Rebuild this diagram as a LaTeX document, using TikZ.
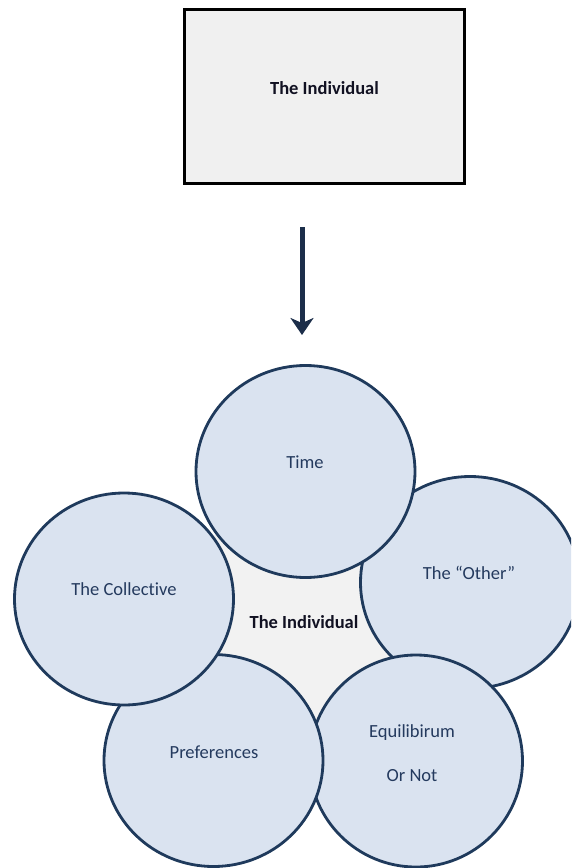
\documentclass[tikz,border=0pt]{standalone}
\usepackage{fontspec}
\setmainfont{Carlito}[Ligatures=NoCommon]
\usetikzlibrary{arrows.meta,shapes.geometric}
\definecolor{cfill}{HTML}{DAE3F0}
\definecolor{cline}{HTML}{1F3A5C}
\definecolor{ctext}{HTML}{243A5E}
\definecolor{midfill}{HTML}{F2F2F2}
\definecolor{boxfill}{HTML}{F0F0F0}
\definecolor{arrowcol}{HTML}{1C2E4A}
\definecolor{darktext}{HTML}{111122}
\begin{document}
\begin{tikzpicture}[x=1pt,y=-1pt,
  bubble/.style={ellipse, draw=cline, line width=2.8pt, fill=cfill,
    minimum width=219pt, minimum height=212pt, inner sep=0pt},
  btext/.style={text=ctext, font=\fontsize{18.5}{22}\selectfont, inner sep=0pt},
  boldtext/.style={text=darktext, font=\fontsize{18.5}{22}\selectfont\bfseries, inner sep=0pt},
  topbox/.style={draw=black, line width=3.2pt, fill=boxfill, minimum width=280pt,
    minimum height=174pt, inner sep=0pt}]
\clip (0,0) rectangle (571,868);
% centres
\coordinate (cTime) at (305.5,471.5);
\coordinate (cOther) at (470,582.5);
\coordinate (cEqui) at (416,761);
\coordinate (cPref) at (213.5,760.5);
\coordinate (cColl) at (124,599);
% top box and arrow
\node[topbox] (box) at (324.5,96.5) {};
\node[boldtext] (boxlabel) at (324.5,88) {The Individual};
\coordinate (arrS) at (302,227);
\coordinate (arrE) at (302,335);
\draw[arrowcol, line width=5pt, -{Stealth[length=17pt,width=23pt,inset=5pt]}] (arrS) -- (arrE);
% central area
\fill[midfill] (cTime) -- (cOther) -- (cEqui) -- (cPref) -- (cColl) -- cycle;
% circles
\node[bubble] (other) at (cOther) {};
\node[bubble] (time) at (cTime) {};
\node[bubble, minimum width=213pt] (equi) at (cEqui) {};
\node[bubble] (pref) at (cPref) {};
\node[bubble] (coll) at (cColl) {};
% labels
\node[btext] (tTime) at (305,462) {Time};
\node[btext] (tOther) at (469,573) {The “Other”};
\node[btext] (tColl) at (124,589) {The Collective};
\node[btext] (tPref) at (214,752) {Preferences};
\node[btext] (tEquiA) at (412,733) {Equilibirum};
\node[btext] (tEquiB) at (412,776) {Or Not};
\node[boldtext] (center) at (304,622) {The Individual};
\end{tikzpicture}
\end{document}
